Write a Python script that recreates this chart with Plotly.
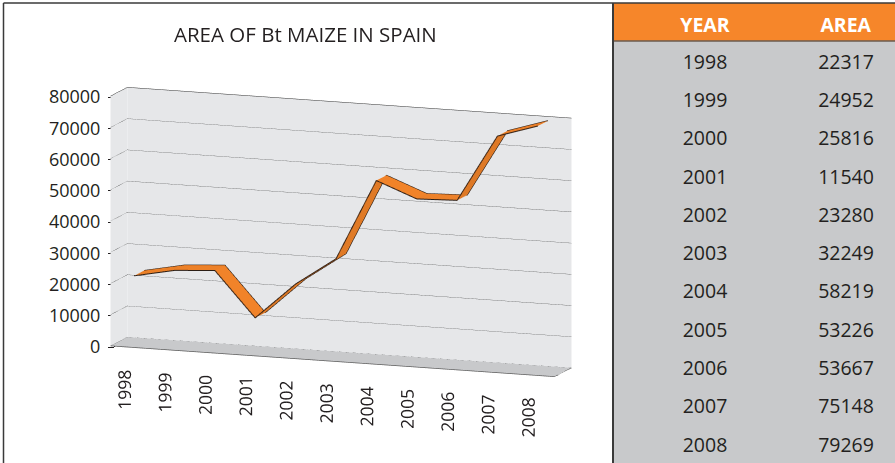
import plotly.graph_objects as go

# Bt maize area in Spain (hectares)
years = ["1998", "1999", "2000", "2001", "2002", "2003",
         "2004", "2005", "2006", "2007", "2008"]
area = [22317, 24952, 25816, 11540, 23280, 32249,
        58219, 53226, 53667, 75148, 79269]
value_ticks = [0, 10000, 20000, 30000, 40000, 50000, 60000, 70000, 80000]
value_tick_labels = [str(v) for v in value_ticks]

W, H = 895, 463
ORANGE = "#f6862a"
INK = "#231f20"
WALL = "#e6e7e9"
FLOOR = "#c8c9cb"
FONT = "Open Sans"

idx = list(range(len(years)))
X0, X1 = -0.5, len(years) - 0.5      # category slots
Z0, ZMAX = 0, 80000                   # value range of the walls
ZLOW = -12500                         # room under the floor for the year labels
front, back = 0.2, 0.8                # ribbon depth inside the slot
flat = dict(ambient=1, diffuse=0, specular=0, roughness=1, fresnel=0)


def quad(xs, ys, zs, color):
    return go.Mesh3d(x=xs, y=ys, z=zs, i=[0, 0], j=[1, 2], k=[2, 3],
                     color=color, flatshading=True, lighting=flat,
                     hoverinfo="skip", showscale=False)


fig = go.Figure()
# back wall, side wall and floor of the chart box
fig.add_trace(quad([X0, X1, X1, X0], [1, 1, 1, 1], [Z0, Z0, ZMAX, ZMAX], WALL))
fig.add_trace(quad([X0, X0, X0, X0], [0, 1, 1, 0], [Z0, Z0, ZMAX, ZMAX], WALL))
fig.add_trace(quad([X0, X1, X1, X0], [0, 0, 1, 1], [Z0, Z0, Z0, Z0], FLOOR))
fig.add_trace(go.Scatter3d(x=[X0, X1, X1], y=[0, 0, 1], z=[Z0, Z0, Z0], mode="lines",
                           line=dict(color="#5a5a5a", width=1.5),
                           hoverinfo="skip", showlegend=False))

# ribbon surface for the 3-D line
vx, vy, vz = [], [], []
for i, v in zip(idx, area):
    vx += [i, i]
    vy += [front, back]
    vz += [v, v]
ti, tj, tk = [], [], []
for s in range(len(idx) - 1):
    a, b, c, d = 2 * s, 2 * s + 1, 2 * s + 2, 2 * s + 3
    ti += [a, b]
    tj += [b, d]
    tk += [c, c]
fig.add_trace(go.Mesh3d(
    x=vx, y=vy, z=vz, i=ti, j=tj, k=tk,
    color=ORANGE, flatshading=True,
    lighting=dict(ambient=0.9, diffuse=0.25, specular=0, roughness=1, fresnel=0),
    hoverinfo="skip", showscale=False,
))
for depth in (front, back):
    fig.add_trace(go.Scatter3d(
        x=idx, y=[depth] * len(idx), z=area, mode="lines",
        line=dict(color="#2b1d14", width=2),
        hoverinfo="skip", showlegend=False,
    ))

# value axis along the front-left edge of the box
fig.add_trace(go.Scatter(x=[], y=[], hoverinfo="skip", showlegend=False))

# data table on the right; the header is a little taller so the rows sit lower
fig.add_trace(go.Table(
    domain=dict(x=[613 / W, 1], y=[0, 1 - 3 / H]),
    columnwidth=[184, 98],
    header=dict(values=["<b>YEAR</b>", "<b>AREA</b>"],
                fill_color=ORANGE, line_color=ORANGE,
                font=dict(color="white", size=19.5, family=FONT),
                align="center", height=43),
    cells=dict(values=[years, [str(a) for a in area]],
               fill_color=FLOOR, line_color=FLOOR,
               font=dict(color=INK, size=19.5, family=FONT),
               align="center", height=38.3),
))

axis_font = dict(size=18, color=INK, family=FONT)
year_font = dict(size=14.5, color=INK, family=FONT)  # 3-D text scales with the scene
hidden = dict(showgrid=False, zeroline=False, showspikes=False,
              showbackground=False, showline=False, title=dict(text=""))
fig.update_layout(
    width=W, height=H,
    margin=dict(l=0, r=0, t=0, b=0, pad=0, autoexpand=False),
    paper_bgcolor="white", plot_bgcolor="rgba(0,0,0,0)",
    showlegend=False, hovermode=False,
    xaxis=dict(domain=[115 / W, 600 / W], range=[0, 1], visible=False,
               automargin=False),
    yaxis=dict(domain=[1 - 347 / H, 1 - 97 / H], range=[Z0, ZMAX], anchor="x",
               tickvals=value_ticks, ticktext=value_tick_labels,
               tickfont=axis_font, ticks="outside", ticklen=6, tickcolor=INK,
               ticklabelstandoff=4, automargin=False,
               showline=True, linecolor=INK, linewidth=1,
               showgrid=False, zeroline=False),
    scene=dict(
        domain=dict(x=[41 / W, 641 / W], y=[0, 1 - 40 / H]),
        xaxis=dict(hidden, range=[X0, X1], tickvals=idx, ticktext=years,
                   tickangle=-90, tickfont=year_font, showticklabels=True),
        yaxis=dict(hidden, range=[0, 1], showticklabels=False),
        zaxis=dict(hidden, range=[ZLOW, ZMAX], tickvals=value_ticks,
                   showticklabels=False, showgrid=True, gridcolor="#2e2e2e",
                   gridwidth=1),
        aspectmode="manual", aspectratio=dict(x=2.235, y=0.232, z=1.391),
        camera=dict(eye=dict(x=0.557, y=-1.53, z=0.316),
                    up=dict(x=0, y=0, z=1), center=dict(x=0, y=0, z=0),
                    projection=dict(type="orthographic")),
    ),
    annotations=[dict(text="AREA OF Bt MAIZE IN SPAIN", x=305 / W, y=1 - 34 / H,
                      xref="paper", yref="paper", xanchor="center",
                      yanchor="middle", showarrow=False,
                      font=dict(size=20.5, color=INK, family=FONT))],
    shapes=[
        # gray strip trimming the header band back to its drawn height
        dict(type="rect", xref="paper", yref="paper", x0=613 / W, x1=1,
             y0=1 - 49 / H, y1=1 - 41 / H, fillcolor=FLOOR, line_width=0),
        dict(type="line", xref="paper", yref="paper", x0=613 / W, x1=1,
             y0=1 - 41 / H, y1=1 - 41 / H, line=dict(color="#6b5a4e", width=1.5)),
        dict(type="line", xref="paper", yref="paper", x0=3.5 / W, x1=3.5 / W,
             y0=0, y1=1 - 3 / H, line=dict(color="#3a3a3a", width=1.5)),
        dict(type="line", xref="paper", yref="paper", x0=3.5 / W, x1=1,
             y0=1 - 3 / H, y1=1 - 3 / H, line=dict(color="#3a3a3a", width=1.5)),
        dict(type="line", xref="paper", yref="paper", x0=613 / W, x1=613 / W,
             y0=0, y1=1 - 3 / H, line=dict(color="#3a3a3a", width=2)),
    ],
)

fig.write_html("out.html", config=dict(displayModeBar=False))
